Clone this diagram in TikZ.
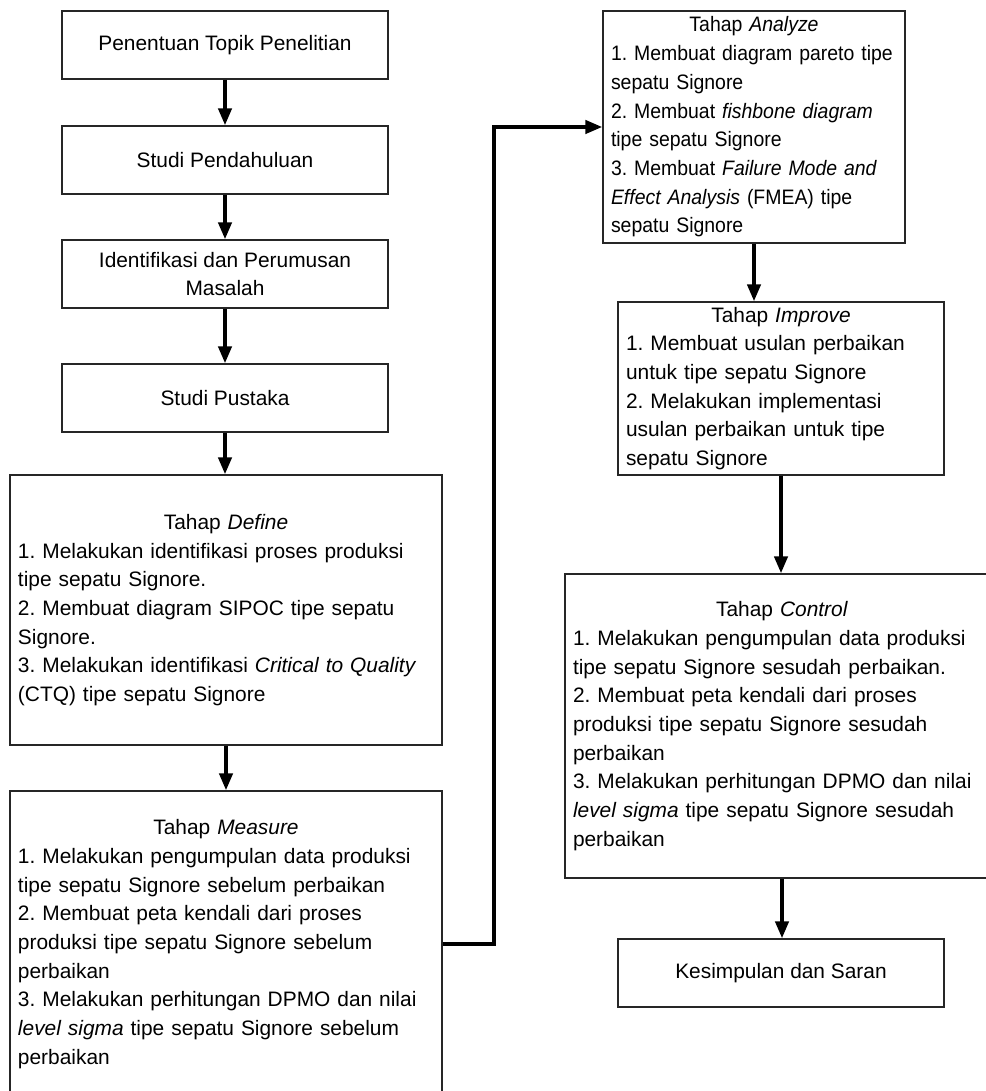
\documentclass[tikz,border=0pt]{standalone}
\usepackage{fontspec}
\setmainfont{Liberation Sans}
\usetikzlibrary{arrows.meta, positioning, calc}
\frenchspacing
\newcommand{\judul}[1]{\makebox[\hsize]{Tahap \textit{#1}}\\}

\begin{document}
\begin{tikzpicture}[
  x=0.5pt, y=-0.5pt,
  box/.style={draw=black!85, line width=0.6pt, inner sep=0pt, font=\fontsize{10.45pt}{14.35pt}\selectfont},
  smallbox/.style={box, minimum width=163pt, minimum height=34pt, align=center},
  tahapbox/.style={box, inner xsep=4pt, align=left},
  arr/.style={-{Triangle[length=8.5pt, width=6.5pt]}, line width=2pt},
]
\useasboundingbox (0,0) rectangle (985,1091);

% Left column
\node[smallbox] (topik) at (225,45) {Penentuan Topik Penelitian};
\node[smallbox] (pendahuluan) at (225,160) {Studi Pendahuluan};
\node[smallbox] (rumusan) at (225,274) {Identifikasi dan Perumusan\\Masalah};
\node[smallbox] (pustaka) at (225,398) {Studi Pustaka};
\node[tahapbox, text width=208pt, minimum height=135pt] (define) at (226,610) {\judul{Define}
1. Melakukan identifikasi proses produksi\\
tipe sepatu Signore.\\
2. Membuat diagram SIPOC tipe sepatu\\
Signore.\\
3. Melakukan identifikasi \textit{Critical to Quality}\\
(CTQ) tipe sepatu Signore};
\node[tahapbox, text width=208pt, minimum height=153pt] (measure) at (226,944) {\judul{Measure}
1. Melakukan pengumpulan data produksi\\
tipe sepatu Signore sebelum perbaikan\\
2. Membuat peta kendali dari proses\\
produksi tipe sepatu Signore sebelum\\
perbaikan\\
3. Melakukan perhitungan DPMO dan nilai\\
\textit{level sigma} tipe sepatu Signore sebelum\\
perbaikan};

% Right column
\node[tahapbox, text width=143pt, minimum height=116pt,
  font=\fontsize{10.45pt}{14.35pt}\selectfont\addfontfeatures{FakeStretch=0.93}] (analyze) at (754,127) {\judul{Analyze}
1. Membuat diagram pareto tipe\\
sepatu Signore\\
2. Membuat \textit{fishbone diagram}\\
tipe sepatu Signore\\
3. Membuat \textit{Failure Mode and}\\
\textit{Effect Analysis} (FMEA) tipe\\
sepatu Signore};
\node[tahapbox, text width=155pt, minimum height=86.5pt] (improve) at (781,388.5) {\judul{Improve}
1. Membuat usulan perbaikan\\
untuk tipe sepatu Signore\\
2. Melakukan implementasi\\
usulan perbaikan untuk tipe\\
sepatu Signore};
\node[tahapbox, text width=209pt, minimum height=152pt] (control) at (782,726) {\judul{Control}
1. Melakukan pengumpulan data produksi\\
tipe sepatu Signore sesudah perbaikan.\\
2. Membuat peta kendali dari proses\\
produksi tipe sepatu Signore sesudah\\
perbaikan\\
3. Melakukan perhitungan DPMO dan nilai\\
\textit{level sigma} tipe sepatu Signore sesudah\\
perbaikan};
\node[smallbox] (simpulan) at (781,973) {Kesimpulan dan Saran};

\draw[arr] (topik) -- (pendahuluan);
\draw[arr] (pendahuluan) -- (rumusan);
\draw[arr] (rumusan) -- (pustaka);
\draw[arr] (pustaka.south) -- (pustaka.south |- define.north);
\draw[arr] (define.south) -- (define.south |- measure.north);
\draw[arr] (measure.east) -- ++(51,0) |- (analyze.west);
\draw[arr] (analyze.south) -- (analyze.south |- improve.north);
\draw[arr] (improve.south) -- (improve.south |- control.north);
\draw[arr] (control.south) -- (control.south |- simpulan.north);

\end{tikzpicture}
\end{document}
